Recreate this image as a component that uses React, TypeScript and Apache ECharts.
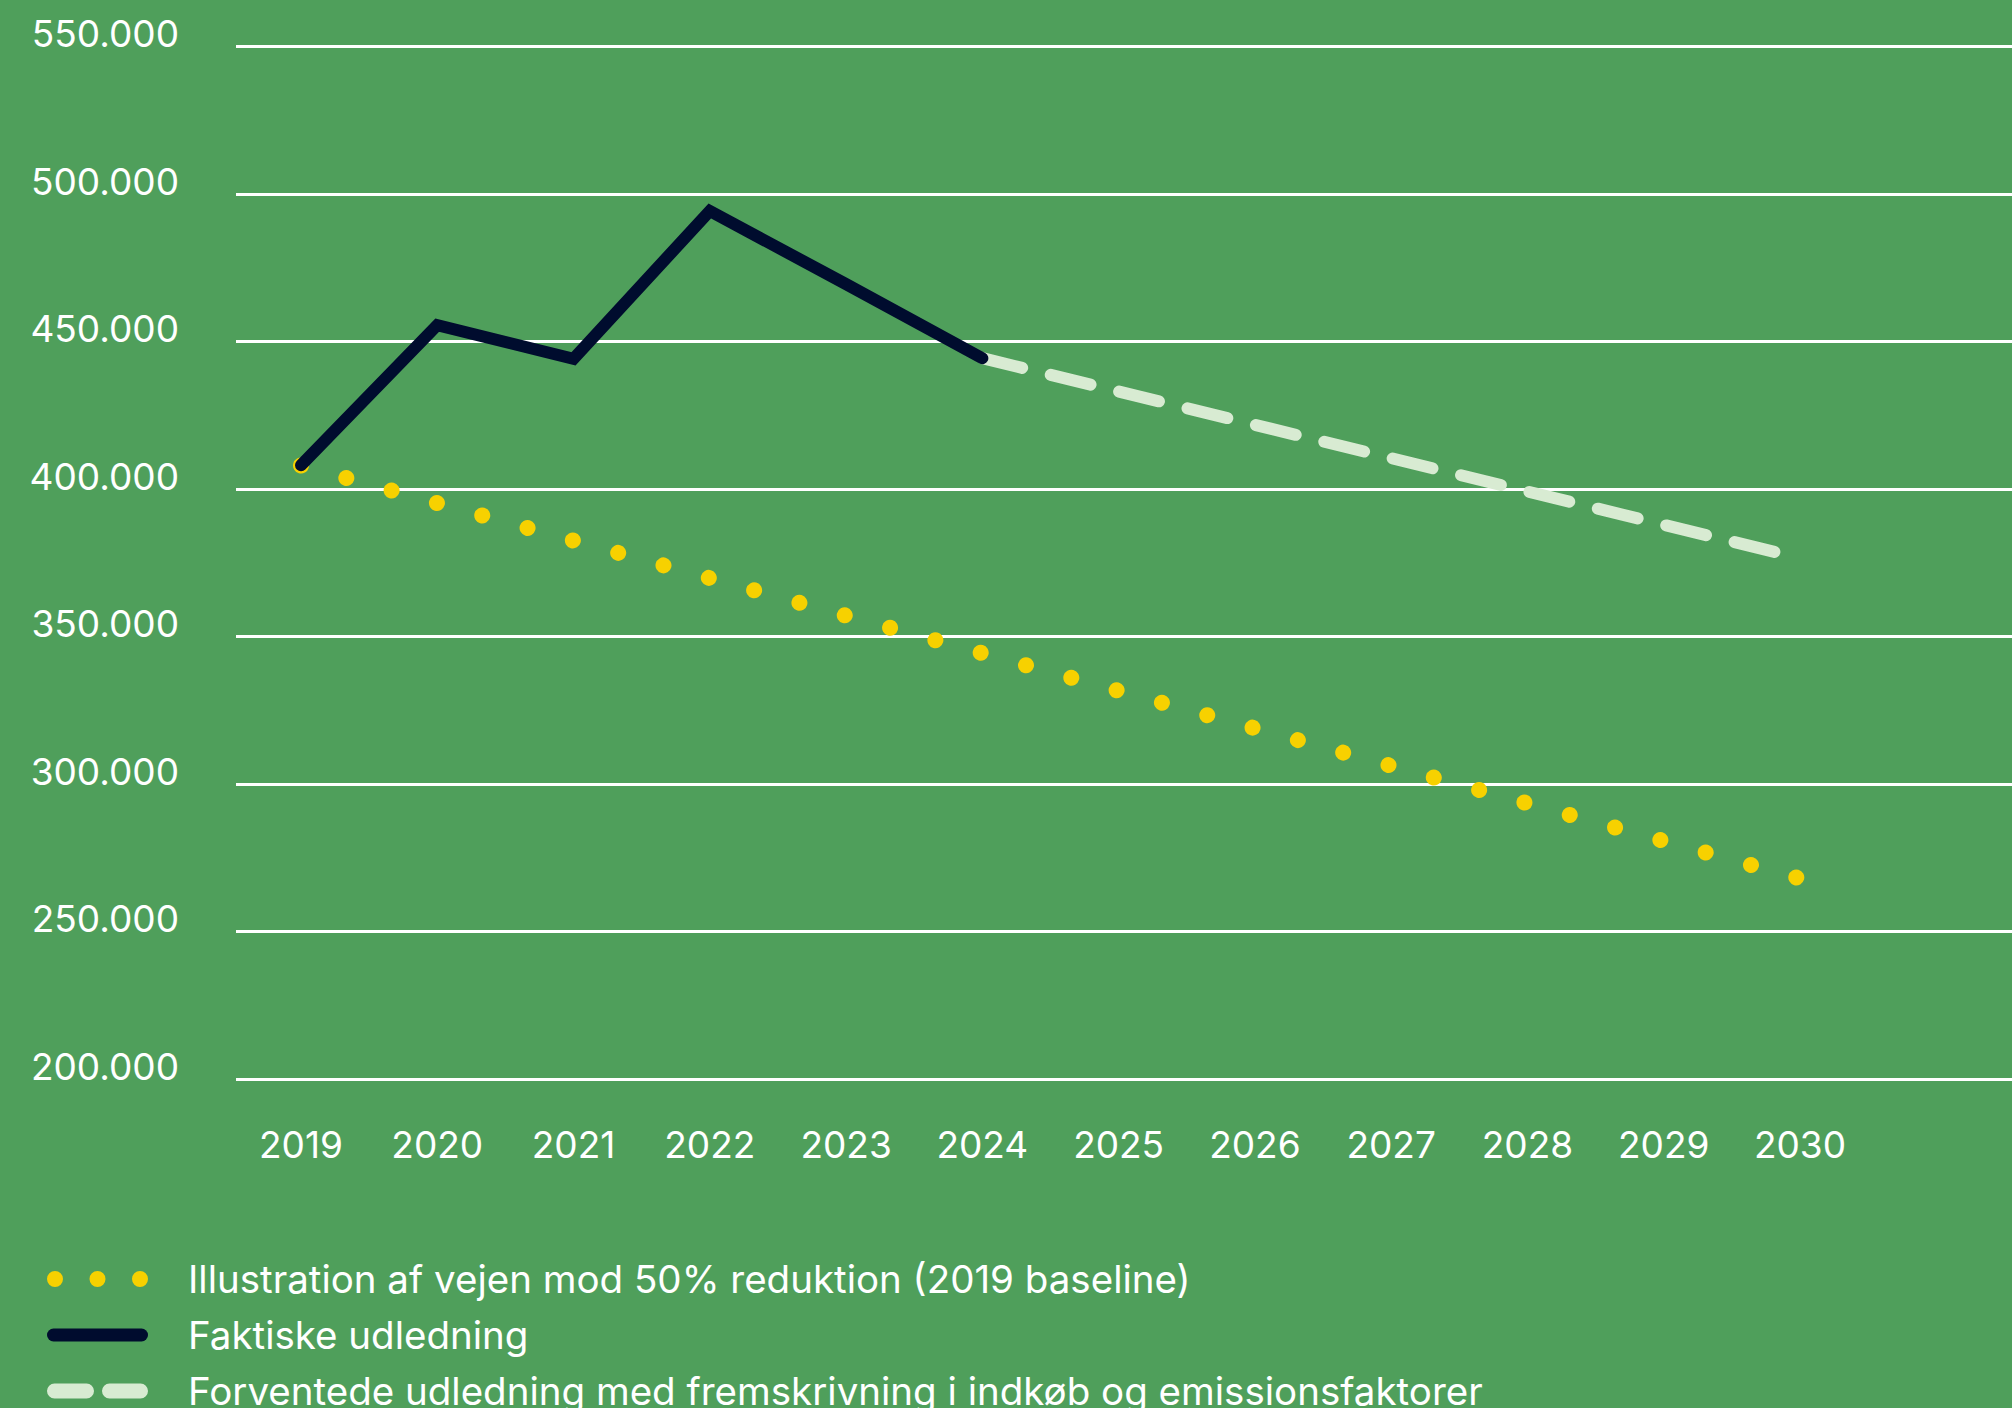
import React, { useEffect, useRef } from "react";
import * as echarts from "echarts";

// ---- data ----
const YEAR_LABELS = [2019, 2020, 2021, 2022, 2023, 2024, 2025, 2026, 2027, 2028, 2029, 2030];
const Y_TICKS_MIN = 200000;
const Y_TICKS_MAX = 550000;
const Y_TICK_STEP = 50000;

const ACTUAL_YEARS = [2019, 2020, 2021, 2022, 2023, 2024];
const ACTUAL_VALUES = [408100, 455600, 444200, 494300, 469500, 444400];

const TARGET_YEARS = [2019, 2030];
const TARGET_VALUES = [408000, 268000];

const FORECAST_YEARS = [2024, 2030];
const FORECAST_VALUES = [444400, 376600];

const NAME_TARGET = "Illustration af vejen mod 50% reduktion (2019 baseline)";
const NAME_ACTUAL = "Faktiske udledning";
const NAME_FORECAST = "Forventede udledning med fremskrivning i indkøb og emissionsfaktorer";

// ---- styles ----
const BG = "#4f9f5b";
const YELLOW = "#f7d100";
const NAVY = "#000c2e";
const PALE = "#d8ebd2";
const FONT = "Inter, Lato, sans-serif";

const ICON_DOTS =
  "path://M0,8a8,8 0 1,0 16,0a8,8 0 1,0 -16,0Z M42.5,8a8,8 0 1,0 16,0a8,8 0 1,0 -16,0Z M85,8a8,8 0 1,0 16,0a8,8 0 1,0 -16,0Z";
const ICON_SOLID =
  "path://M6.5,0H94.5A6.5,6.5 0 0 1 94.5,13H6.5A6.5,6.5 0 0 1 6.5,0Z";
const ICON_DASH =
  "path://M7.5,0H39.5A7.5,7.5 0 0 1 39.5,15H7.5A7.5,7.5 0 0 1 7.5,0Z M62.5,0H93.5A7.5,7.5 0 0 1 93.5,15H62.5A7.5,7.5 0 0 1 62.5,0Z";

const pairs = (xs: number[], ys: number[]) => xs.map((x, i) => [x, ys[i]]);

export default function App() {
  const ref = useRef<HTMLDivElement>(null);

  useEffect(() => {
    document.body.style.margin = "0";
    if (!ref.current) return;
    const chart = echarts.init(ref.current, null, { renderer: "svg" });
    chart.setOption({
      animation: false,
      backgroundColor: BG,
      grid: { left: 236, right: 0, top: 46.7, bottom: 329 },
      xAxis: {
        type: "value",
        min: 2018.523,
        max: 2031.556,
        axisLine: { show: false },
        axisTick: { show: false },
        splitLine: { show: false },
        axisLabel: {
          customValues: YEAR_LABELS,
          formatter: (v: number) => String(Math.round(v)),
          color: "#ffffff",
          fontFamily: FONT,
          fontSize: 37,
          margin: 43.5,
          lineHeight: 44,
        },
      },
      yAxis: {
        type: "value",
        min: Y_TICKS_MIN,
        max: Y_TICKS_MAX,
        interval: Y_TICK_STEP,
        axisLine: { show: false },
        axisTick: { show: false },
        splitLine: { lineStyle: { color: "#ffffff", width: 3 } },
        axisLabel: {
          formatter: (v: number) => `${Math.round(v / 1000)}.000`,
          color: "#ffffff",
          fontFamily: FONT,
          fontSize: 37,
          margin: 57,
          verticalAlign: "bottom",
          lineHeight: 26,
        },
      },
      legend: {
        orient: "vertical",
        left: 47,
        top: 1257,
        height: 400,
        padding: 0,
        itemGap: 12,
        itemWidth: 101,
        itemHeight: 16,
        selectedMode: false,
        textStyle: {
          color: "#ffffff",
          fontFamily: FONT,
          fontSize: 38.5,
          lineHeight: 44,
          padding: [0, 0, 0, 35],
        },
        data: [
          { name: NAME_TARGET, icon: ICON_DOTS, itemStyle: { color: YELLOW, borderWidth: 0, borderColor: "transparent" } },
          { name: NAME_ACTUAL, icon: ICON_SOLID, itemStyle: { color: NAVY, borderWidth: 0, borderColor: "transparent" } },
          { name: NAME_FORECAST, icon: ICON_DASH, itemStyle: { color: PALE, borderWidth: 0, borderColor: "transparent" } },
        ],
      },
      series: [
        {
          name: NAME_TARGET,
          type: "line",
          data: pairs(TARGET_YEARS, TARGET_VALUES),
          showSymbol: false,
          symbol: "none",
          color: YELLOW,
          lineStyle: { color: YELLOW, width: 16, cap: "round", type: [0.01, 46.99] },
          z: 2,
        },
        {
          name: NAME_FORECAST,
          type: "line",
          data: pairs(FORECAST_YEARS, FORECAST_VALUES),
          showSymbol: false,
          symbol: "none",
          color: PALE,
          lineStyle: { color: PALE, width: 12, cap: "round", type: [41, 29.4] },
          z: 3,
        },
        {
          name: NAME_ACTUAL,
          type: "line",
          data: pairs(ACTUAL_YEARS, ACTUAL_VALUES),
          showSymbol: false,
          symbol: "none",
          color: NAVY,
          lineStyle: { color: NAVY, width: 12, cap: "round", join: "miter" },
          z: 4,
        },
      ],
    });
    return () => chart.dispose();
  }, []);

  return (
    <div
      ref={ref}
      style={{ position: "absolute", left: 0, top: 0, width: 2012, height: 1408 }}
    />
  );
}
